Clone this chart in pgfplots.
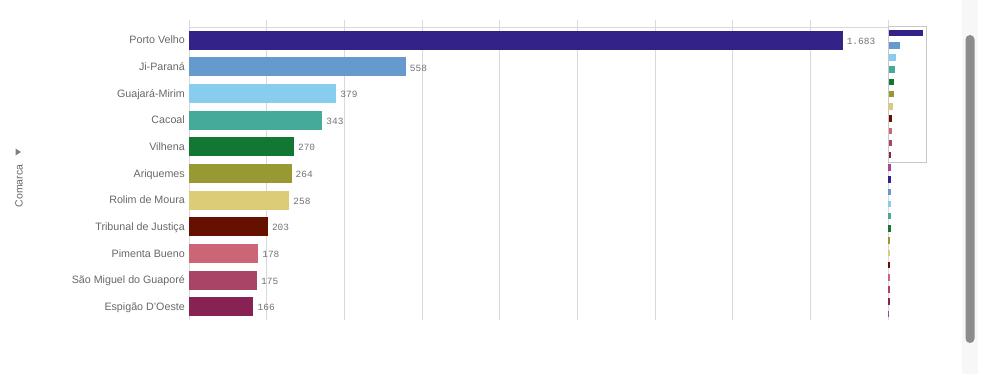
\documentclass[border=0pt]{standalone}
\usepackage{pgfplots}
\pgfplotsset{compat=1.18}
\usepackage{fontspec}
\setmainfont{Liberation Sans}
\newfontfamily\monofont{Liberation Mono}
\definecolor{c1}{HTML}{332288}
\definecolor{c2}{HTML}{6699CC}
\definecolor{c3}{HTML}{88CCEE}
\definecolor{c4}{HTML}{44AA99}
\definecolor{c5}{HTML}{117733}
\definecolor{c6}{HTML}{999933}
\definecolor{c7}{HTML}{DDCC77}
\definecolor{c8}{HTML}{661100}
\definecolor{c9}{HTML}{CC6677}
\definecolor{c10}{HTML}{AA4466}
\definecolor{c11}{HTML}{882255}
\definecolor{c12}{HTML}{AA4499}
\definecolor{labelgray}{HTML}{676767}
\definecolor{valgray}{HTML}{737373}
\definecolor{gridgray}{HTML}{D9D9D9}
\begin{document}
\begin{tikzpicture}[x=1bp,y=1bp]
\path[use as bounding box] (0,0) rectangle (1000,374);
% scrollbar
\fill[black!3] (962,0) rectangle (978,374);
\fill[black!45, rounded corners=4.5bp] (965.5,31) rectangle (974.5,339);
% axis title
\node[rotate=90, text=labelgray, font=\fontsize{10.5bp}{12bp}\selectfont] at (19,188) {Comarca};
\fill[black!50] (15.5,225.5) -- (15.5,218.5) -- (21,222) -- cycle;
\begin{axis}[
  at={(189bp,54bp)}, anchor=south west, width=699bp, height=293bp, scale only axis,
  xmin=0, xmax=1800, ymin=-0.5, ymax=10.5, y dir=reverse,
  xbar, bar width=19bp, bar shift=0pt,
  axis line style={draw=none},
  xtick={0,200,...,1800}, xticklabels={},
  xmajorgrids, major grid style={draw=gridgray, line width=0.8bp},
  xtick pos=upper, tick align=outside, major tick length=7bp,
  xtick style={draw=gridgray, line width=0.8bp},
  ytick={0,...,10},
  yticklabels={Porto Velho,Ji-Paraná,Guajará-Mirim,Cacoal,Vilhena,Ariquemes,Rolim de Moura,Tribunal de Justiça,Pimenta Bueno,São Miguel do Guaporé,Espigão D'Oeste},
  ytick style={draw=none},
  yticklabel style={font=\fontsize{10.7bp}{13bp}\selectfont, text=labelgray, anchor=mid east, inner sep=0pt, xshift=3bp, yshift=-1bp},
  nodes near coords, point meta=x,
  every node near coord/.append style={font=\monofont\fontsize{9.5bp}{11bp}\selectfont, text=valgray, anchor=west, inner sep=0pt, xshift=4bp, yshift=-1bp},
  /pgf/number format/1000 sep={.},
  /pgf/number format/assume math mode=true,
  clip=false,
]
\draw[gridgray, line width=0.8bp] (axis description cs:0,1) -- (axis description cs:1,1);
\addplot[fill=c1, draw=none] coordinates {(1683,0)};
\addplot[fill=c2, draw=none] coordinates {(558,1)};
\addplot[fill=c3, draw=none] coordinates {(379,2)};
\addplot[fill=c4, draw=none] coordinates {(343,3)};
\addplot[fill=c5, draw=none] coordinates {(270,4)};
\addplot[fill=c6, draw=none] coordinates {(264,5)};
\addplot[fill=c7, draw=none] coordinates {(258,6)};
\addplot[fill=c8, draw=none] coordinates {(203,7)};
\addplot[fill=c9, draw=none] coordinates {(178,8)};
\addplot[fill=c10, draw=none] coordinates {(175,9)};
\addplot[fill=c11, draw=none] coordinates {(166,10)};
\end{axis}
% minimap
\begin{axis}[
  at={(888bp,54bp)}, anchor=south west, width=38bp, height=293bp, scale only axis,
  xmin=0, xmax=1827, ymin=-0.5, ymax=23.5, y dir=reverse,
  xbar, bar width=6.5bp, bar shift=0pt, hide axis,
]
\addplot[fill=c1, draw=none] coordinates {(1683,0)};
\addplot[fill=c2, draw=none] coordinates {(558,1)};
\addplot[fill=c3, draw=none] coordinates {(379,2)};
\addplot[fill=c4, draw=none] coordinates {(343,3)};
\addplot[fill=c5, draw=none] coordinates {(270,4)};
\addplot[fill=c6, draw=none] coordinates {(264,5)};
\addplot[fill=c7, draw=none] coordinates {(258,6)};
\addplot[fill=c8, draw=none] coordinates {(203,7)};
\addplot[fill=c9, draw=none] coordinates {(178,8)};
\addplot[fill=c10, draw=none] coordinates {(175,9)};
\addplot[fill=c11, draw=none] coordinates {(166,10)};
\addplot[fill=c12, draw=none] coordinates {(164,11)};
\addplot[fill=c1, draw=none] coordinates {(160,12)};
\addplot[fill=c2, draw=none] coordinates {(135,13)};
\addplot[fill=c3, draw=none] coordinates {(130,14)};
\addplot[fill=c4, draw=none] coordinates {(125,15)};
\addplot[fill=c5, draw=none] coordinates {(120,16)};
\addplot[fill=c6, draw=none] coordinates {(115,17)};
\addplot[fill=c7, draw=none] coordinates {(110,18)};
\addplot[fill=c8, draw=none] coordinates {(105,19)};
\addplot[fill=c9, draw=none] coordinates {(95,20)};
\addplot[fill=c10, draw=none] coordinates {(90,21)};
\addplot[fill=c11, draw=none] coordinates {(85,22)};
\addplot[fill=c12, draw=none] coordinates {(70,23)};
\end{axis}
\draw[black!22, line width=0.8bp] (888,212) rectangle (926,348);
\end{tikzpicture}
\end{document}
